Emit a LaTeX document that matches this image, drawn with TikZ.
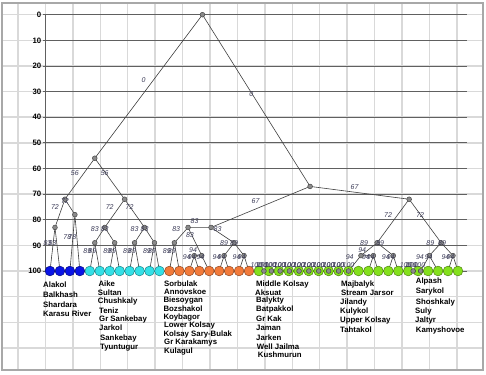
\documentclass[tikz,border=0pt]{standalone}
\usepackage{fontspec}
\setmainfont{Liberation Sans}
\pgfdeclarelayer{bg}
\pgfdeclarelayer{edges}
\pgfsetlayers{bg,edges,main}
\definecolor{lgridc}{HTML}{D9D9D9}
\definecolor{dgridc}{HTML}{606060}
\definecolor{framec}{HTML}{A8A8A8}
\definecolor{edgec}{HTML}{404040}
\definecolor{labc}{HTML}{3C3C58}
\definecolor{cblue}{HTML}{0A14E6}
\definecolor{ccyan}{HTML}{33E0E6}
\definecolor{corange}{HTML}{F27A3A}
\definecolor{cgreen}{HTML}{84E01C}
\definecolor{dotc}{HTML}{8A8A8A}
\newcommand\tleaf[3]{%
  \pgfmathsetmacro\tmpc{50+9.95*#2}%
  \expandafter\let\csname tx#1\endcsname\tmpc
  \node[leafdot,#3] (#1) at (\tmpc,271) {};%
}
\newcommand\tin[4]{%
  \edef\tmpa{\csname tx#2\endcsname}%
  \edef\tmpb{\csname tx#3\endcsname}%
  \pgfmathsetmacro\tmpc{(\tmpa+\tmpb)/2}%
  \expandafter\let\csname tx#1\endcsname\tmpc
  \pgfmathsetmacro\tmpy{14.7+2.563*#4}%
  \node[idot] (#1) at (\tmpc,\tmpy) {};%
  \begin{pgfonlayer}{edges}%
    \draw[edge] (#1.center) -- (#2.center) (#1.center) -- (#3.center);%
  \end{pgfonlayer}%
  \path (#1.center) -- (#2.center) node[elab] {#4};%
  \path (#1.center) -- (#3.center) node[elab] {#4};%
}
\tikzset{
  lgrid/.style={draw=lgridc, line width=1.5pt},
  dgrid/.style={draw=dgridc, line width=0.9pt},
  edge/.style={draw=edgec, line width=0.6pt},
  elab/.style={pos=0.5, xshift=-5pt, yshift=6pt, inner sep=0pt, text=labc,
    font=\itshape\fontsize{7}{8}\selectfont},
  leafdot/.style={circle, inner sep=0pt, minimum size=9.8pt, line width=0.45pt},
  lb/.style={fill=cblue, draw=cblue!50!black},
  lc/.style={fill=ccyan, draw=ccyan!55!black},
  lo/.style={fill=corange, draw=corange!55!black},
  lg/.style={fill=cgreen, draw=cgreen!55!black},
  idot/.style={circle, inner sep=0pt, minimum size=4.8pt, fill=dotc, draw=black!75, line width=0.45pt},
  nm/.style={anchor=west, inner sep=0pt, font=\bfseries\fontsize{7.8}{9}\selectfont},
  tick/.style={anchor=east, inner sep=0pt, font=\bfseries\fontsize{7.8}{9}\selectfont}
}
\begin{document}
\begin{tikzpicture}[x=1pt,y=-1pt]
\useasboundingbox (0,0) rectangle (486,374);
\begin{pgfonlayer}{bg}
  \fill[white] (0,0) rectangle (486,374);
  \foreach \k in {0,...,16} \draw[lgrid] ({18+27.43*\k},3) -- ({18+27.43*\k},370);
  \foreach \k in {0,...,13} \draw[lgrid] (2,{14.7+25.63*\k}) -- (483,{14.7+25.63*\k});
  \foreach \k in {0,...,10} {
    \draw[dgrid] (43,{14.7+25.63*\k}) -- (467,{14.7+25.63*\k});
    \pgfmathtruncatemacro\lv{10*\k}
    \node[tick] (tk\k) at (41.5,{14.7+25.63*\k}) {\lv};
  }
  \draw[dgrid] (45,14.7) -- (45,271);
  \draw[framec, line width=1.6pt] (2,3) rectangle (483,370);
\end{pgfonlayer}
% leaves
\tleaf{L0}{0}{lb}\tleaf{L1}{1}{lb}\tleaf{L2}{2}{lb}\tleaf{L3}{3}{lb}
\tleaf{L4}{4}{lc}\tleaf{L5}{5}{lc}\tleaf{L6}{6}{lc}\tleaf{L7}{7}{lc}
\tleaf{L8}{8}{lc}\tleaf{L9}{9}{lc}\tleaf{L10}{10}{lc}\tleaf{L11}{11}{lc}
\tleaf{L12}{12}{lo}\tleaf{L13}{13}{lo}\tleaf{L14}{14}{lo}\tleaf{L15}{15}{lo}
\tleaf{L16}{16}{lo}\tleaf{L17}{17}{lo}\tleaf{L18}{18}{lo}\tleaf{L19}{19}{lo}
\tleaf{L20}{20}{lo}
\tleaf{L21}{21}{lg}\tleaf{L22}{22}{lg}\tleaf{L23}{23}{lg}\tleaf{L24}{24}{lg}
\tleaf{L25}{25}{lg}\tleaf{L26}{26}{lg}\tleaf{L27}{27}{lg}\tleaf{L28}{28}{lg}
\tleaf{L29}{29}{lg}\tleaf{L30}{30}{lg}\tleaf{L31}{31}{lg}\tleaf{L32}{32}{lg}
\tleaf{L33}{33}{lg}\tleaf{L34}{34}{lg}\tleaf{L35}{35}{lg}\tleaf{L36}{36}{lg}
\tleaf{L37}{37}{lg}\tleaf{L38}{38}{lg}\tleaf{L39}{39}{lg}\tleaf{L40}{40}{lg}
\tleaf{L41}{41}{lg}
% internal nodes
\tin{b83}{L0}{L1}{83}
\tin{b78}{L2}{L3}{78}
\tin{b72}{b83}{b78}{72}
\tin{c89a}{L4}{L5}{89}
\tin{c89b}{L6}{L7}{89}
\tin{c89c}{L8}{L9}{89}
\tin{c89d}{L10}{L11}{89}
\tin{c83a}{c89a}{c89b}{83}
\tin{c83b}{c89c}{c89d}{83}
\tin{c72}{c83a}{c83b}{72}
\tin{n56}{b72}{c72}{56}
\tin{o89}{L12}{L13}{89}
\tin{oB}{L14}{L15}{94}
\tin{oA}{oB}{L16}{94}
\tin{o83a}{o89}{oA}{83}
\tin{oC}{L17}{L18}{94}
\tin{oD}{L19}{L20}{94}
\tin{o89b}{oC}{oD}{89}
\tin{o83}{o83a}{o89b}{83}
\tin{gca}{L21}{L22}{100}
\tin{gcb}{gca}{L23}{100}
\tin{gcc}{gcb}{L24}{100}
\tin{gcd}{gcc}{L25}{100}
\tin{gce}{gcd}{L26}{100}
\tin{gcf}{gce}{L27}{100}
\tin{gcg}{gcf}{L28}{100}
\tin{gch}{gcg}{L29}{100}
\tin{gci}{gch}{L30}{100}
\tin{gcj}{gci}{L31}{100}
\tin{gE}{L32}{L33}{94}
\tin{gA}{gcj}{gE}{94}
\tin{gB}{L34}{L35}{94}
\tin{g89a}{gA}{gB}{89}
\tin{gY}{L36}{L37}{100}
\tin{gX}{gY}{L38}{100}
\tin{gG}{gX}{L39}{94}
\tin{gK}{L40}{L41}{94}
\tin{g89b}{gG}{gK}{89}
\tin{g72}{g89a}{g89b}{72}
\tin{n67}{o83}{g72}{67}
\tin{root}{n56}{n67}{0}
% names
\node[nm] (a1) at (43,285) {Alakol};
\node[nm] (a2) at (43,295) {Balkhash};
\node[nm] (a3) at (43,304.3) {Shardara};
\node[nm] (a4) at (43,313.3) {Karasu River};
\node[nm] (b1) at (98.3,283.3) {Aike};
\node[nm] (b2) at (97.7,292.7) {Sultan};
\node[nm] (b3) at (97.7,301.7) {Chushkaly};
\node[nm] (b4) at (99,310.7) {Teniz};
\node[nm] (b5) at (99,319) {Gr Sankebay};
\node[nm] (b6) at (99,327.7) {Jarkol};
\node[nm] (b7) at (100,338.3) {Sankebay};
\node[nm] (b8) at (100,347.3) {Tyuntugur};
\node[nm] (c1) at (164,283.3) {Sorbulak};
\node[nm] (c2) at (164,291.7) {Annovskoe};
\node[nm] (c3) at (163.3,300) {Biesoygan};
\node[nm] (c4) at (163.3,309) {Bozshakol};
\node[nm] (c5) at (163.3,317.3) {Koybagor};
\node[nm] (c6) at (164,325.7) {Lower Kolsay};
\node[nm] (c7) at (163.3,334) {Kolsay Sary-Bulak};
\node[nm] (c8) at (164,342.7) {Gr Karakamys};
\node[nm] (c9) at (164,351.7) {Kulagul};
\node[nm] (d1) at (256,284) {Middle Kolsay};
\node[nm] (d2) at (255,292.3) {Aksuat};
\node[nm] (d3) at (256,300.7) {Balykty};
\node[nm] (d4) at (256,309.3) {Batpakkol};
\node[nm] (d5) at (256,318.3) {Gr Kak};
\node[nm] (d6) at (256,328.3) {Jaman};
\node[nm] (d7) at (256,337.3) {Jarken};
\node[nm] (d8) at (256.7,346.7) {Well Jailma};
\node[nm] (d9) at (257.7,355) {Kushmurun};
\node[nm] (e1) at (341,284.3) {Majbalyk};
\node[nm] (e2) at (341,292.7) {Stream Jarsor};
\node[nm] (e3) at (340,302.3) {Jilandy};
\node[nm] (e4) at (340,311) {Kulykol};
\node[nm] (e5) at (340,320) {Upper Kolsay};
\node[nm] (e6) at (340,329.3) {Tahtakol};
\node[nm] (f1) at (415.7,281.7) {Alpash};
\node[nm] (f2) at (415.7,291.7) {Sarykol};
\node[nm] (f3) at (415.7,302.3) {Shoshkaly};
\node[nm] (f4) at (415,311) {Suly};
\node[nm] (f5) at (415,320) {Jaltyr};
\node[nm] (f6) at (415.7,330) {Kamyshovoe};
\end{tikzpicture}
\end{document}
